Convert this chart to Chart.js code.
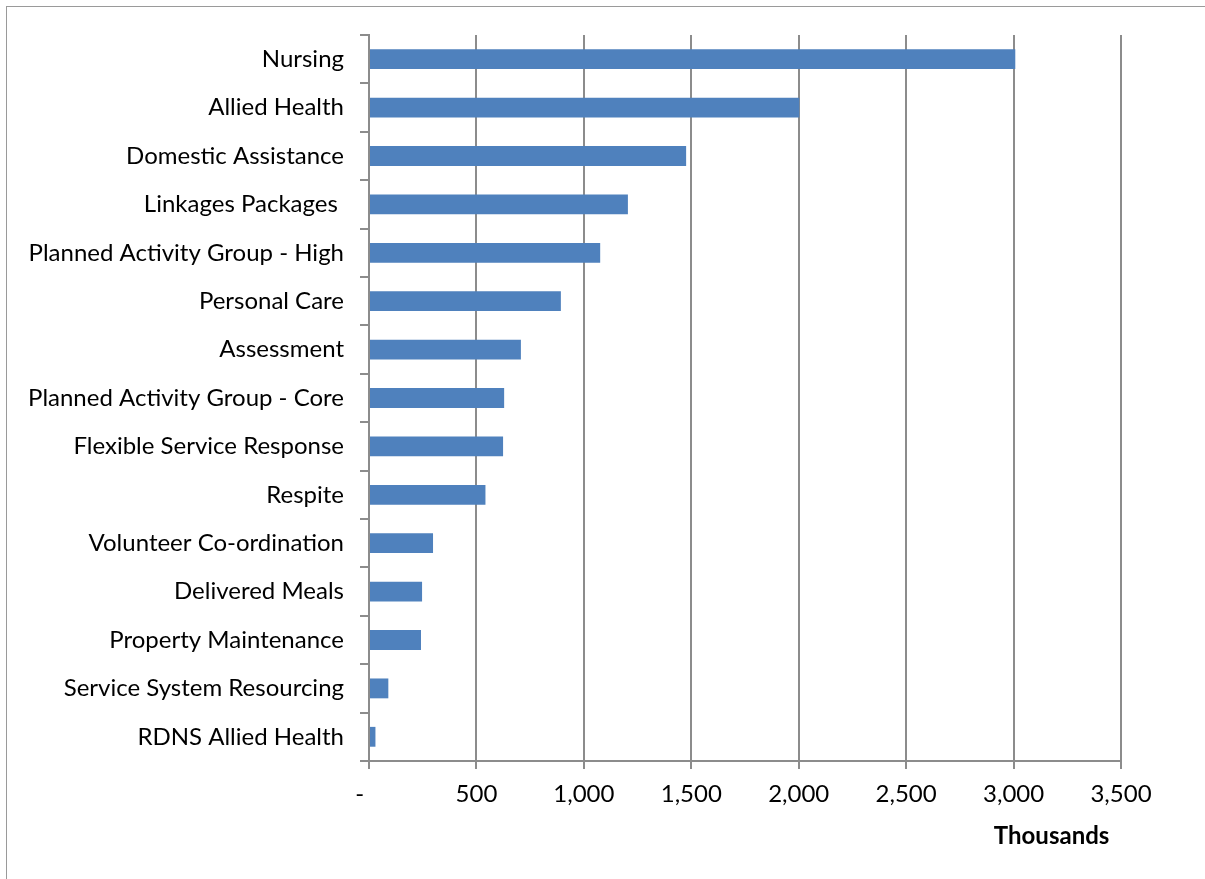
<!DOCTYPE html>
<html>
<head>
<meta charset="utf-8">
<script src="https://cdn.jsdelivr.net/npm/chart.js@4/dist/chart.umd.min.js"></script>
<style>
  html, body { margin: 0; padding: 0; background: #fff; }
  #wrap { position: relative; width: 1205px; height: 879px; overflow: hidden; }
  #frame { position: absolute; left: 6px; top: 6px; width: 1400px; height: 1000px;
           border-left: 1px solid #9a9a9a; border-top: 1px solid #9a9a9a; }
  canvas { position: absolute; left: 0; top: 0; }
</style>
</head>
<body>
<div id="wrap">
  <div id="frame"></div>
  <canvas id="c" width="1205" height="879"></canvas>
</div>
<script>
// Service types, in display order (largest first)
const categories = [
  'Nursing',
  'Allied Health',
  'Domestic Assistance',
  'Linkages Packages ',
  'Planned Activity Group - High',
  'Personal Care',
  'Assessment',
  'Planned Activity Group - Core',
  'Flexible Service Response',
  'Respite',
  'Volunteer Co-ordination',
  'Delivered Meals',
  'Property Maintenance',
  'Service System Resourcing',
  'RDNS Allied Health'
];

// Funding, in thousands
const funding = [3008, 2003, 1476, 1205, 1076, 893, 707, 629, 624, 542, 298, 247, 242, 90, 30];

// Value axis ticks (accounting style: zero shown as a dash)
const tickValues = [0, 500, 1000, 1500, 2000, 2500, 3000, 3500];
const tickLabels = ['-   ', '500', '1,000', '1,500', '2,000', '2,500', '3,000', '3,500'];

const FONT = 'Lato, "Open Sans", sans-serif';
const GRID = '#8c8c8c';

new Chart(document.getElementById('c'), {
  type: 'bar',
  data: {
    labels: categories,
    datasets: [{
      data: funding,
      backgroundColor: '#4f81bd',
      borderWidth: 0,
      barPercentage: 0.41,
      categoryPercentage: 1.0
    }]
  },
  options: {
    indexAxis: 'y',
    responsive: false,
    animation: false,
    layout: { padding: { left: 0, right: 84, top: 35, bottom: 0 } },
    plugins: { legend: { display: false }, tooltip: { enabled: false } },
    scales: {
      x: {
        type: 'linear',
        min: 0,
        max: 3500,
        afterBuildTicks: (scale) => { scale.ticks = tickValues.map(v => ({ value: v })); },
        afterFit: (scale) => { scale.height = 118; },
        ticks: {
          color: '#000',
          font: { family: FONT, size: 24 },
          padding: 11,
          maxRotation: 0,
          callback: (v) => tickLabels[tickValues.indexOf(v)]
        },
        grid: { color: GRID, lineWidth: 2, tickLength: 8, drawTicks: true },
        border: { color: GRID, width: 2 },
        title: {
          display: true,
          text: 'Thousands  ',
          align: 'end',
          color: '#000',
          font: { family: FONT, size: 24, weight: 'bold' },
          padding: { top: 0, bottom: 28 }
        }
      },
      y: {
        afterFit: (scale) => { scale.width = 369; },
        ticks: {
          color: '#000',
          font: { family: FONT, size: 24 },
          padding: 16,
          autoSkip: false
        },
        grid: { drawOnChartArea: false, drawTicks: true, tickLength: 9, color: GRID, lineWidth: 2, offset: true },
        border: { color: GRID, width: 2 }
      }
    }
  }
});
</script>
</body>
</html>
